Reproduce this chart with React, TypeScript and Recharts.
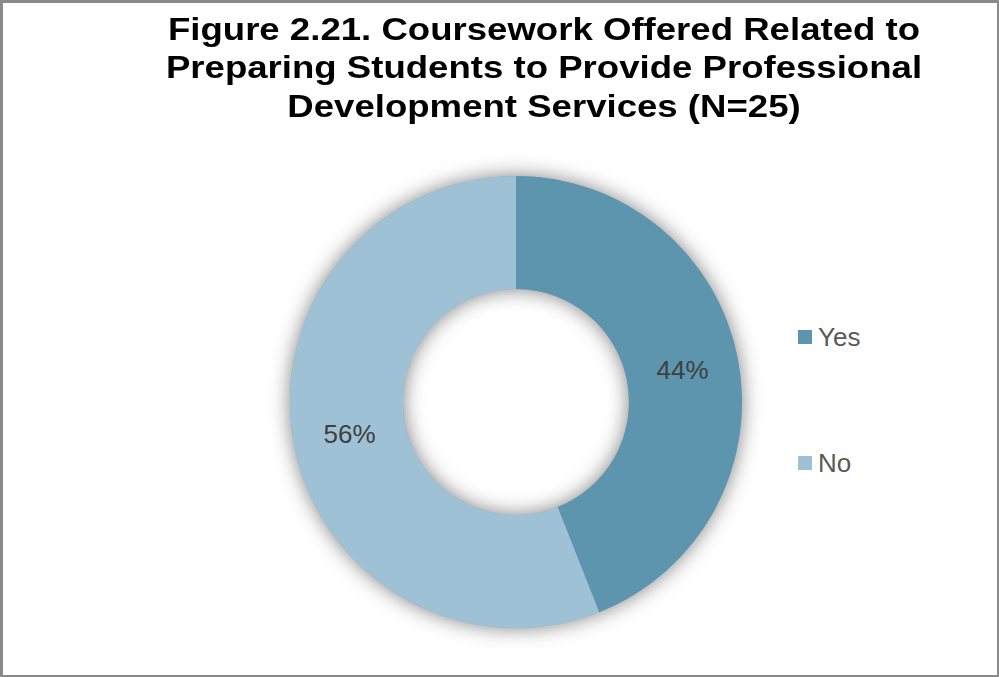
import React from 'react';
import { PieChart, Pie, Cell, Legend } from 'recharts';

// N=25 respondents
const categories = ['Yes', 'No'];
const counts = [11, 14];
const sliceColors = ['#5e95ae', '#9fc1d5'];
const titleLines = [
  'Figure 2.21. Coursework Offered Related to',
  'Preparing Students to Provide Professional',
  'Development Services (N=25)',
];

const data = categories.map((name, i) => ({ name, value: counts[i] }));
const ring = [{ name: 'ring', value: 1 }];

const RADIAN = Math.PI / 180;

const renderLabel = (props: any) => {
  const { cx, cy, midAngle, innerRadius, outerRadius, percent } = props;
  const r = (innerRadius + outerRadius) / 2;
  const x = cx + r * Math.cos(-midAngle * RADIAN);
  const y = cy + r * Math.sin(-midAngle * RADIAN);
  return (
    <text
      x={x}
      y={y}
      fill="#404040"
      fontSize={26}
      fontFamily="'Liberation Sans', Arial, sans-serif"
      textAnchor="middle"
      dominantBaseline="central"
    >
      {`${Math.round(percent * 100)}%`}
    </text>
  );
};

const renderLegend = (props: any) => {
  const items = (props.payload || [])
    .filter((p: any) => categories.includes(p.value))
    .sort((a: any, b: any) => categories.indexOf(a.value) - categories.indexOf(b.value));
  return (
    <div style={{ fontFamily: "'Liberation Sans', Arial, sans-serif" }}>
      {items.map((p: any, i: number) => (
        <div
          key={p.value}
          style={{
            display: 'flex',
            alignItems: 'center',
            height: 30,
            marginTop: i === 0 ? 0 : 96,
          }}
        >
          <span style={{ width: 14, height: 14, background: p.color, marginRight: 6, display: 'inline-block' }} />
          <span style={{ fontSize: 26, lineHeight: '30px', color: '#595959' }}>{p.value}</span>
        </div>
      ))}
    </div>
  );
};

export default function App() {
  return (
    <div
      style={{
        position: 'absolute',
        left: 0,
        top: 0,
        width: 999,
        height: 677,
        boxSizing: 'border-box',
        borderStyle: 'solid',
        borderColor: '#8a8a8a',
        borderWidth: '3px 2px 2px 3px',
        background: '#fff',
        overflow: 'hidden',
      }}
    >
      <div
        style={{
          position: 'absolute',
          left: 141,
          top: 8,
          width: 800,
          textAlign: 'center',
          fontFamily: "'Liberation Sans', Arial, sans-serif",
          fontWeight: 'bold',
          fontSize: 31,
          lineHeight: '38.3px',
          color: '#000',
          whiteSpace: 'nowrap',
          transform: 'scaleX(1.18)',
          transformOrigin: 'center',
        }}
      >
        {titleLines.map((t) => (
          <div key={t}>{t}</div>
        ))}
      </div>
      <div style={{ position: 'absolute', left: -3, top: -3 }}>
        <PieChart width={999} height={677} margin={{ top: 0, right: 0, bottom: 0, left: 0 }}>
          {/* soft glow behind the ring, like the Excel shadow effect */}
          <Pie
            data={ring}
            dataKey="value"
            cx={516}
            cy={402}
            innerRadius={113}
            outerRadius={226}
            stroke="none"
            legendType="none"
            isAnimationActive={false}
          >
            <Cell fill="#7fa9c0" style={{ filter: 'drop-shadow(0 0 10px rgba(0,0,0,0.5))' }} />
          </Pie>
          <Pie
            data={data}
            dataKey="value"
            nameKey="name"
            cx={516}
            cy={402}
            innerRadius={113}
            outerRadius={226}
            startAngle={90}
            endAngle={-270}
            stroke="none"
            label={renderLabel}
            labelLine={false}
            isAnimationActive={false}
          >
            {data.map((d, i) => (
              <Cell key={d.name} fill={sliceColors[i]} />
            ))}
          </Pie>
          <Legend
            layout="vertical"
            content={renderLegend}
            wrapperStyle={{ position: 'absolute', left: 798, top: 322, width: 120, bottom: 'auto' }}
          />
        </PieChart>
      </div>
    </div>
  );
}
